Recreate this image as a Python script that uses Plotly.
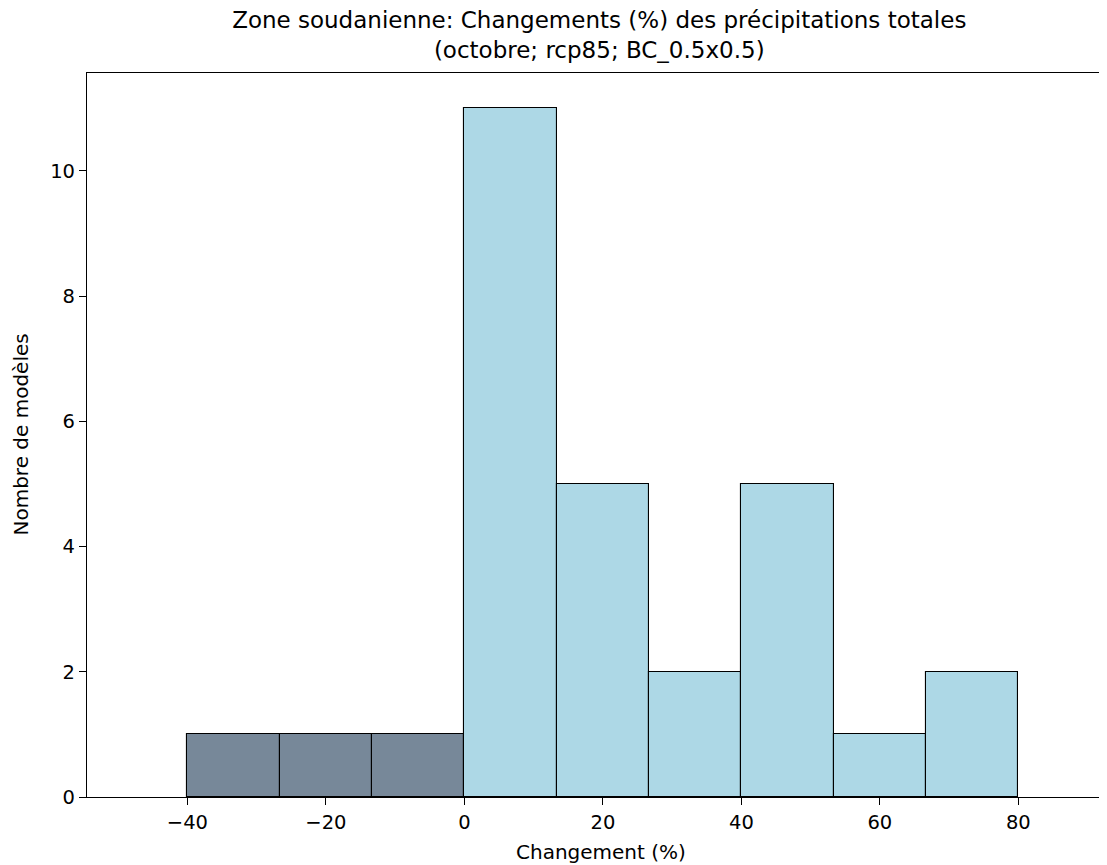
import plotly.graph_objects as go

# histogram: 9 bins from -40 to 80
bin_edges = [-40, -26.667, -13.333, 0, 13.333, 26.667, 40, 53.333, 66.667, 80]
counts = [1, 1, 1, 11, 5, 2, 5, 1, 2]
x_ticks = [-40, -20, 0, 20, 40, 60, 80]
y_ticks = [0, 2, 4, 6, 8, 10]

centers = [(a + b) / 2 for a, b in zip(bin_edges[:-1], bin_edges[1:])]
widths = [b - a for a, b in zip(bin_edges[:-1], bin_edges[1:])]
colors = ["#778899" if c < 0 else "#add8e6" for c in centers]

font = "DejaVu Sans"
# page body has an 8px margin, so the figure is 8px smaller than the window
W, H = 1099, 857
L, T, B = 79, 65, 68
plot_h = H - T - B

fig = go.Figure()
fig.add_trace(go.Bar(
    x=centers, y=counts, width=widths,
    marker=dict(color=colors, line=dict(color="black", width=1.1)),
    showlegend=False,
))

fig.update_layout(
    width=W, height=H,
    margin=dict(l=L, r=0, t=T, b=B),
    plot_bgcolor="white", paper_bgcolor="white",
    font=dict(family=font, size=19.5, color="black"),
    title=dict(
        text="Zone soudanienne: Changements (%) des précipitations totales<br>(octobre; rcp85; BC_0.5x0.5)",
        x=0.538, xref="container", xanchor="center",
        y=0.977, yref="container", yanchor="top",
        font=dict(family=font, size=23),
    ),
    bargap=0,
    annotations=[
        dict(text="Changement (%)", xref="paper", yref="paper",
             x=0.504, y=-55 / plot_h, xanchor="center", yanchor="middle",
             showarrow=False, font=dict(size=20)),
        dict(text="Nombre de modèles", xref="paper", yref="paper",
             x=(20.5 - 87) / 1020, y=0.5, xanchor="center", yanchor="middle",
             textangle=-90, showarrow=False, font=dict(size=20)),
    ],
)

fig.update_xaxes(
    range=[-54.5, 92.8],
    tickvals=x_ticks, ticktext=[str(v).replace("-", "\u2212") for v in x_ticks],
    ticks="outside", ticklen=7, tickwidth=1.1, tickcolor="black",
    showline=True, linecolor="black", linewidth=1.2, mirror=True,
    showgrid=False, zeroline=False,
)
fig.update_yaxes(
    range=[0, 11.565],
    tickvals=y_ticks,
    ticks="outside", ticklen=7, tickwidth=1.1, tickcolor="black",
    showline=True, linecolor="black", linewidth=1.2,
    showgrid=False, zeroline=False,
)

fig.write_html("out.html")
